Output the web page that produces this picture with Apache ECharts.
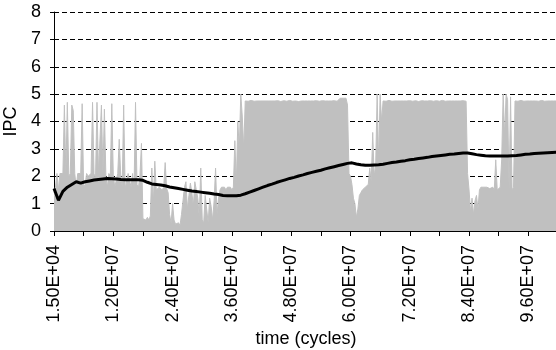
<!DOCTYPE html>
<html>
<head>
<meta charset="utf-8">
<script src="https://cdn.jsdelivr.net/npm/echarts@6/dist/echarts.min.js"></script>
<style>
  html, body { margin: 0; padding: 0; background: #fff; }
  #chart { width: 556px; height: 350px; }
</style>
</head>
<body>
<div id="chart"></div>
<script>
// Sampling of the IPC trace: one sample every 300k cycles.
const CYCLES_PER_SAMPLE = 300000;
// The running average is stored every AVG_STEP samples.
const AVG_STEP = 3;

const xTickLabels = ['1.50E+04', '1.20E+07', '2.40E+07', '3.60E+07', '4.80E+07',
                     '6.00E+07', '7.20E+07', '8.40E+07', '9.60E+07'];
const yTickValues = [0, 1, 2, 3, 4, 5, 6, 7, 8];

// Instantaneous IPC per sample
const ipc = [
  1.4, 1.6, 2.1, 1.5, 2.1, 2.05, 2.1, 4.6, 2.1, 4.7,
  2.0, 2.1, 4.6, 4.4, 2.1, 1.6, 2.1, 2.05, 2.1, 4.65,
  1.6, 1.7, 2.1, 2.0, 2.05, 2.1, 4.7, 2.1, 1.9, 4.7,
  2.1, 2.05, 4.6, 2.1, 4.45, 2.0, 1.6, 2.1, 2.0, 4.65,
  2.05, 1.6, 1.55, 2.1, 3.35, 2.05, 1.6, 4.6, 1.55, 1.6,
  2.1, 2.05, 1.6, 2.1, 1.6, 4.7, 1.7, 1.6, 2.05, 3.2,
  0.45, 0.5, 0.4, 0.5, 0.4, 0.55, 2.3, 1.0, 2.55, 1.5,
  1.55, 1.6, 1.55, 1.5, 1.6, 2.5, 1.55, 1.4, 0.6, 0.3,
  1.0, 0.4, 0.25, 0.2, 0.3, 0.2, 0.6, 1.1, 1.6, 1.8,
  0.8, 1.3, 1.75, 1.4, 0.9, 1.8, 1.5, 1.2, 0.5, 2.3,
  0.4, 0.3, 1.3, 0.8, 0.3, 1.2, 0.9, 0.4, 1.1, 2.3,
  0.6, 1.2, 1.5, 1.6, 1.55, 1.6, 1.5, 1.6, 1.55, 1.6,
  1.5, 1.6, 3.3, 1.7, 4.0, 3.0, 5.0, 4.2, 3.0, 4.75,
  4.76, 4.74, 4.75, 4.77, 4.75, 4.74, 4.76, 4.75, 4.73, 4.75,
  4.76, 4.75, 4.74, 4.75, 4.77, 4.75, 4.74, 4.75, 4.76, 4.75,
  4.74, 4.76, 4.75, 4.73, 4.75, 4.76, 4.75, 4.74, 4.75, 4.77,
  4.75, 4.74, 4.76, 4.75, 4.75, 4.73, 4.76, 4.75, 4.74, 4.75,
  4.76, 4.75, 4.74, 4.75, 4.77, 4.75, 4.74, 4.76, 4.75, 4.74,
  4.75, 4.76, 4.74, 4.75, 4.73, 4.75, 4.76, 4.75, 4.74, 4.76,
  4.75, 4.74, 4.76, 4.85, 4.8, 4.85, 4.9, 4.85, 4.6, 2.1,
  2.0, 1.7, 1.2, 1.0, 0.5, 0.8, 1.3, 1.4, 1.5, 1.5,
  1.6, 1.6, 1.7, 2.3, 1.8, 3.6, 2.0, 2.4, 5.0, 2.5,
  5.0, 4.0, 4.75, 4.76, 4.74, 4.75, 4.77, 4.75, 4.74, 4.76,
  4.75, 4.73, 4.75, 4.76, 4.75, 4.74, 4.75, 4.77, 4.75, 4.74,
  4.76, 4.75, 4.74, 4.75, 4.76, 4.75, 4.73, 4.75, 4.76, 4.74,
  4.75, 4.77, 4.75, 4.74, 4.76, 4.75, 4.74, 4.75, 4.76, 4.75,
  4.74, 4.75, 4.77, 4.75, 4.74, 4.76, 4.75, 4.73, 4.75, 4.76,
  4.75, 4.74, 4.75, 4.76, 4.75, 4.74, 4.76, 4.75, 4.74, 2.1,
  1.5, 0.7, 1.2, 0.6, 1.1, 1.3, 0.8, 1.5, 1.6, 1.6,
  1.6, 1.55, 1.6, 1.6, 1.55, 1.6, 1.6, 1.5, 2.6, 1.5,
  1.5, 1.6, 2.6, 5.0, 3.5, 5.0, 4.8, 1.5, 4.9, 1.5,
  1.6, 4.75, 4.76, 4.74, 4.75, 4.77, 4.75, 4.74, 4.76, 4.75,
  4.74, 4.75, 4.76, 4.75, 4.73, 4.75, 4.76, 4.74, 4.75, 4.77,
  4.75, 4.74, 4.76, 4.75, 4.74, 4.75, 4.76, 4.75, 4.74, 4.75
];

// Cumulative average IPC, one value every AVG_STEP samples
const avgIpc = [
  1.55, 1.12, 1.45, 1.60, 1.70, 1.80, 1.75, 1.80, 1.83, 1.86,
  1.88, 1.90, 1.92, 1.91, 1.90, 1.88, 1.87, 1.87, 1.87, 1.87,
  1.85, 1.78, 1.72, 1.70, 1.68, 1.65, 1.61, 1.58, 1.55, 1.52,
  1.49, 1.46, 1.44, 1.42, 1.40, 1.38, 1.35, 1.33, 1.30, 1.29,
  1.29, 1.29, 1.31, 1.36, 1.42, 1.48, 1.54, 1.60, 1.66, 1.71,
  1.77, 1.82, 1.87, 1.92, 1.96, 2.01, 2.05, 2.10, 2.14, 2.18,
  2.22, 2.27, 2.31, 2.35, 2.39, 2.43, 2.47, 2.49, 2.45, 2.42,
  2.40, 2.40, 2.41, 2.42, 2.44, 2.47, 2.50, 2.52, 2.55, 2.57,
  2.60, 2.62, 2.65, 2.67, 2.69, 2.72, 2.74, 2.76, 2.78, 2.80,
  2.81, 2.83, 2.85, 2.85, 2.82, 2.79, 2.77, 2.75, 2.74, 2.74,
  2.74, 2.74, 2.74, 2.75, 2.76, 2.78, 2.80, 2.81, 2.83, 2.84,
  2.85, 2.86, 2.87, 2.88
];

const FONT = "'Liberation Sans', Arial, sans-serif";
const TICK_STEP = 6000000;      // minor tick spacing on the time axis
const LABEL_STEP = 12000000;    // labelled tick spacing

const ipcData = ipc.map((v, i) => [i * CYCLES_PER_SAMPLE, v]);
const avgData = avgIpc.map((v, j) => [j * AVG_STEP * CYCLES_PER_SAMPLE, v]);

const chart = echarts.init(document.getElementById('chart'), null, { renderer: 'canvas' });
chart.setOption({
  animation: false,
  backgroundColor: '#fff',
  grid: { left: 54, right: -2, top: 12, bottom: 119, containLabel: false, outerBoundsMode: 'none' },
  xAxis: {
    type: 'value',
    min: 0,
    max: 102000000,
    interval: TICK_STEP,
    name: 'time (cycles)',
    nameLocation: 'middle',
    nameGap: 98,
    nameTextStyle: { fontFamily: FONT, fontSize: 18, color: '#000' },
    axisLine: { show: true, lineStyle: { color: '#000', width: 1 } },
    axisTick: { show: true, length: 5, lineStyle: { color: '#000', width: 1 } },
    axisLabel: {
      rotate: 90,
      margin: 14,
      fontFamily: FONT,
      fontSize: 18,
      color: '#000',
      formatter: v => (v % LABEL_STEP === 0 ? (xTickLabels[v / LABEL_STEP] || '') : '')
    },
    splitLine: { show: false }
  },
  yAxis: {
    type: 'value',
    min: yTickValues[0],
    max: yTickValues[yTickValues.length - 1],
    interval: 1,
    name: 'IPC',
    nameLocation: 'middle',
    nameGap: 28,
    nameTextStyle: { fontFamily: FONT, fontSize: 18, color: '#000' },
    axisLine: { show: true, lineStyle: { color: '#000', width: 1 } },
    axisTick: { show: true, length: 4, lineStyle: { color: '#000', width: 1 } },
    axisLabel: { margin: 13, fontFamily: FONT, fontSize: 18, color: '#000' },
    splitLine: { show: true, lineStyle: { color: '#000', width: 1, type: [5, 3] } }
  },
  series: [
    {
      name: 'IPC',
      type: 'line',
      data: ipcData,
      showSymbol: false,
      symbol: 'none',
      lineStyle: { color: '#c0c0c0', width: 1 },
      areaStyle: { color: '#c0c0c0', opacity: 1 },
      z: 2
    },
    {
      name: 'Average IPC',
      type: 'line',
      data: avgData,
      showSymbol: false,
      symbol: 'none',
      lineStyle: { color: '#000', width: 3 },
      z: 3
    }
  ]
});
</script>
</body>
</html>
